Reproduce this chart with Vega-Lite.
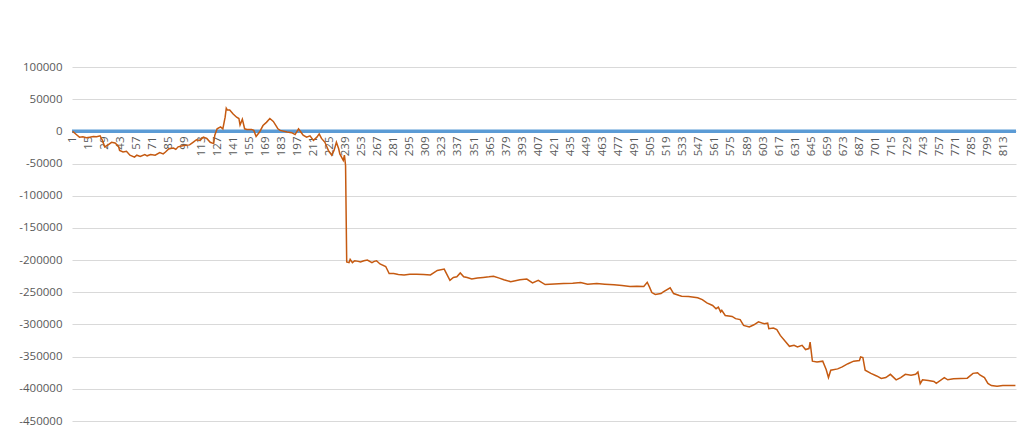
{
  "$schema": "https://vega.github.io/schema/vega-lite/v6.json",
  "width": 944,
  "height": 354,
  "autosize": {"type": "none"},
  "padding": {"left": 72, "top": 67, "right": 8, "bottom": 18},
  "background": "#ffffff",
  "config": {
    "view": {"stroke": null},
    "axis": {"labelFont": "Open Sans", "labelFontSize": 11.5, "labelColor": "#595959", "labelOverlap": false, "labelFlush": false}
  },
  "datasets": {
    "series": [
      {"i": 1, "v": 0}, {"i": 3, "v": -3000}, {"i": 5, "v": -6000}, {"i": 7, "v": -9000}, {"i": 10, "v": -8500}, {"i": 13, "v": -10000},
      {"i": 16, "v": -9000}, {"i": 19, "v": -8000}, {"i": 22, "v": -8500}, {"i": 25, "v": -7000}, {"i": 27, "v": -14000}, {"i": 29, "v": -24000},
      {"i": 32, "v": -21000}, {"i": 35, "v": -17000}, {"i": 38, "v": -18000}, {"i": 41, "v": -23000},
      {"i": 42, "v": -29500}, {"i": 45, "v": -32000}, {"i": 48, "v": -31000}, {"i": 51, "v": -37000},
      {"i": 55, "v": -40000}, {"i": 57, "v": -37000}, {"i": 60, "v": -39000}, {"i": 64, "v": -36000}, {"i": 66, "v": -38000}, {"i": 69, "v": -36000},
      {"i": 73, "v": -37000}, {"i": 77, "v": -33000}, {"i": 80, "v": -35000}, {"i": 82, "v": -32000}, {"i": 85, "v": -27000},
      {"i": 89, "v": -26000}, {"i": 91, "v": -28000}, {"i": 93, "v": -24000}, {"i": 98, "v": -22000}, {"i": 103, "v": -21000},
      {"i": 106, "v": -17000}, {"i": 109, "v": -13000}, {"i": 112, "v": -14000}, {"i": 115, "v": -9000},
      {"i": 118, "v": -11000}, {"i": 121, "v": -17000}, {"i": 124, "v": -19000}, {"i": 125, "v": -6000},
      {"i": 127, "v": 4000}, {"i": 130, "v": 7000}, {"i": 132, "v": 4000}, {"i": 134, "v": 22000},
      {"i": 135, "v": 36000}, {"i": 136, "v": 33000}, {"i": 138, "v": 33000}, {"i": 141, "v": 27000}, {"i": 144, "v": 22000},
      {"i": 146, "v": 20000}, {"i": 147, "v": 10000}, {"i": 149, "v": 19000}, {"i": 151, "v": 4000},
      {"i": 153, "v": 3000}, {"i": 157, "v": 3000}, {"i": 159, "v": 1500}, {"i": 161, "v": -8000},
      {"i": 164, "v": -1000}, {"i": 167, "v": 9000}, {"i": 170, "v": 14000}, {"i": 173, "v": 20000},
      {"i": 176, "v": 15500}, {"i": 179, "v": 7000}, {"i": 180, "v": 4000}, {"i": 182, "v": 1500},
      {"i": 188, "v": -1000}, {"i": 192, "v": -2000}, {"i": 195, "v": -5000}, {"i": 198, "v": 4000},
      {"i": 200, "v": -1000}, {"i": 202, "v": -6000}, {"i": 205, "v": -9000}, {"i": 208, "v": -7000},
      {"i": 211, "v": -14000}, {"i": 214, "v": -9000}, {"i": 216, "v": -4000}, {"i": 218, "v": -11000},
      {"i": 221, "v": -17000}, {"i": 224, "v": -29500}, {"i": 227, "v": -37000}, {"i": 229, "v": -29500},
      {"i": 231, "v": -17000}, {"i": 233, "v": -27000}, {"i": 234, "v": -35000}, {"i": 237, "v": -45000},
      {"i": 238, "v": -37000}, {"i": 239, "v": -53000}, {"i": 240, "v": -203000}, {"i": 242, "v": -204000},
      {"i": 243, "v": -199000}, {"i": 245, "v": -204000}, {"i": 247, "v": -201000}, {"i": 250, "v": -202000}, {"i": 252, "v": -203000},
      {"i": 255, "v": -201000}, {"i": 258, "v": -200000}, {"i": 262, "v": -204000}, {"i": 264, "v": -202000}, {"i": 266, "v": -201000}, {"i": 269, "v": -206000},
      {"i": 274, "v": -210000}, {"i": 277, "v": -221000}, {"i": 281, "v": -221000}, {"i": 285, "v": -222500}, {"i": 290, "v": -223000},
      {"i": 295, "v": -222000}, {"i": 301, "v": -222000}, {"i": 307, "v": -222500}, {"i": 313, "v": -223000}, {"i": 319, "v": -216000}, {"i": 325, "v": -214000},
      {"i": 327, "v": -221000}, {"i": 330, "v": -231500}, {"i": 333, "v": -227000}, {"i": 336, "v": -226000},
      {"i": 339, "v": -220000}, {"i": 342, "v": -226000}, {"i": 345, "v": -227000}, {"i": 349, "v": -229500},
      {"i": 354, "v": -228000}, {"i": 359, "v": -227000}, {"i": 364, "v": -226000}, {"i": 368, "v": -225000}, {"i": 373, "v": -228000}, {"i": 377, "v": -230500}, {"i": 383, "v": -233500},
      {"i": 387, "v": -232000}, {"i": 391, "v": -230500}, {"i": 397, "v": -229500}, {"i": 402, "v": -235500}, {"i": 407, "v": -231500},
      {"i": 413, "v": -238000}, {"i": 421, "v": -237000}, {"i": 429, "v": -236500}, {"i": 437, "v": -236000}, {"i": 444, "v": -235000}, {"i": 450, "v": -237500},
      {"i": 458, "v": -236500}, {"i": 465, "v": -237500}, {"i": 473, "v": -238500}, {"i": 480, "v": -239500}, {"i": 487, "v": -241000}, {"i": 493, "v": -240500}, {"i": 499, "v": -241000},
      {"i": 502, "v": -234500}, {"i": 504, "v": -242000}, {"i": 506, "v": -250500}, {"i": 509, "v": -253500},
      {"i": 514, "v": -252000}, {"i": 516, "v": -249500}, {"i": 522, "v": -243000}, {"i": 525, "v": -252000},
      {"i": 530, "v": -255000}, {"i": 532, "v": -256000}, {"i": 538, "v": -256500}, {"i": 546, "v": -258500},
      {"i": 550, "v": -261500}, {"i": 554, "v": -266500}, {"i": 559, "v": -270500}, {"i": 562, "v": -275500},
      {"i": 564, "v": -273000}, {"i": 566, "v": -280500}, {"i": 567, "v": -278000}, {"i": 570, "v": -286000},
      {"i": 576, "v": -287500}, {"i": 579, "v": -291000}, {"i": 583, "v": -292500}, {"i": 586, "v": -301500},
      {"i": 591, "v": -304000}, {"i": 595, "v": -300500}, {"i": 599, "v": -296000}, {"i": 604, "v": -299000},
      {"i": 607, "v": -298000}, {"i": 608, "v": -306500}, {"i": 612, "v": -305500}, {"i": 615, "v": -308000},
      {"i": 618, "v": -317000}, {"i": 623, "v": -327500}, {"i": 626, "v": -334000}, {"i": 630, "v": -332500},
      {"i": 633, "v": -335000}, {"i": 637, "v": -332500}, {"i": 640, "v": -339000}, {"i": 643, "v": -337500},
      {"i": 644, "v": -327500}, {"i": 646, "v": -357000}, {"i": 650, "v": -358500}, {"i": 655, "v": -357000},
      {"i": 658, "v": -370000}, {"i": 660, "v": -382500}, {"i": 662, "v": -371000}, {"i": 668, "v": -369000},
      {"i": 672, "v": -366000}, {"i": 677, "v": -361000}, {"i": 682, "v": -357000}, {"i": 687, "v": -356000}, {"i": 688, "v": -350500},
      {"i": 690, "v": -351500}, {"i": 692, "v": -371000}, {"i": 697, "v": -376000}, {"i": 702, "v": -380000}, {"i": 706, "v": -384000},
      {"i": 710, "v": -382500}, {"i": 714, "v": -377500}, {"i": 719, "v": -386000}, {"i": 723, "v": -382500},
      {"i": 727, "v": -377500}, {"i": 732, "v": -379000}, {"i": 736, "v": -377500}, {"i": 738, "v": -374000},
      {"i": 740, "v": -392000}, {"i": 742, "v": -386000}, {"i": 747, "v": -387000}, {"i": 752, "v": -388500}, {"i": 754, "v": -391500},
      {"i": 761, "v": -382500}, {"i": 764, "v": -386000}, {"i": 769, "v": -384500}, {"i": 775, "v": -384000}, {"i": 781, "v": -383500},
      {"i": 786, "v": -376000}, {"i": 790, "v": -375000}, {"i": 792, "v": -378500}, {"i": 796, "v": -382500},
      {"i": 799, "v": -391500}, {"i": 802, "v": -395000}, {"i": 807, "v": -396000}, {"i": 812, "v": -395000},
      {"i": 823, "v": -395000}
    ],
    "zero": [
      {"i": 0.5, "v": 0}, {"i": 823.5, "v": 0}
    ]
  },
  "encoding": {
    "x": {
      "field": "i",
      "type": "quantitative",
      "scale": {"domain": [0.5, 823.5], "nice": false, "zero": false},
      "axis": {
        "title": null,
        "values": [1, 15, 29, 43, 57, 71, 85, 99, 113, 127, 141, 155, 169, 183, 197, 211, 225, 239, 253, 267, 281, 295, 309, 323, 337, 351, 365, 379, 393, 407, 421, 435, 449, 463, 477, 491, 505, 519, 533, 547, 561, 575, 589, 603, 617, 631, 645, 659, 673, 687, 701, 715, 729, 743, 757, 771, 785, 799, 813],
        "labelExpr": "'' + datum.value",
        "labelAngle": -90,
        "labelOverlap": false,
        "labelFlush": false,
        "labelPadding": 5,
        "offset": -290,
        "grid": false,
        "ticks": false,
        "domain": false
      }
    },
    "y": {
      "field": "v",
      "type": "quantitative",
      "scale": {"domain": [-450000, 100000], "nice": false, "zero": false},
      "axis": {
        "title": null,
        "values": [-450000, -400000, -350000, -300000, -250000, -200000, -150000, -100000, -50000, 0, 50000, 100000],
        "labelExpr": "'' + datum.value",
        "labelOverlap": false,
        "labelPadding": 10,
        "grid": true,
        "gridColor": "#D9D9D9",
        "gridWidth": 1,
        "ticks": false,
        "domain": false
      }
    }
  },
  "layer": [
    {
      "data": {"name": "zero"},
      "mark": {"type": "line", "color": "#5B9BD5", "strokeWidth": 3.5}
    },
    {
      "data": {"name": "series"},
      "mark": {"type": "line", "color": "#C55A11", "strokeWidth": 1.5}
    }
  ]
}
